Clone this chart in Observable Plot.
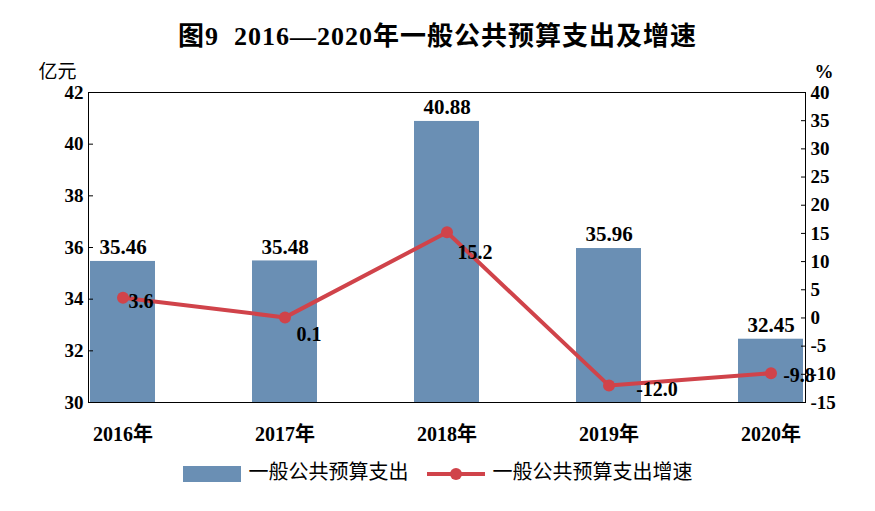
<!DOCTYPE html>
<html><head><meta charset="utf-8">
<script src="https://cdn.jsdelivr.net/npm/d3@7"></script>
<script src="https://cdn.jsdelivr.net/npm/@observablehq/plot@0.6"></script>
<style>
body{margin:0;background:#fff;font-family:"Liberation Serif","Noto Sans CJK SC",serif;}
#title{height:62px;line-height:74px;text-align:center;font-size:26px;font-weight:bold;letter-spacing:1px;}
#legend{display:flex;justify-content:center;align-items:center;gap:18px;font-size:20px;margin-top:-6px;}
.sw{display:inline-block;vertical-align:middle;margin-right:8px;}
</style></head><body>
<div id="title">图9&nbsp; 2016—2020年一般公共预算支出及增速</div>
<div id="chart"></div>
<div id="legend">
 <span><span class="sw" style="width:58px;height:16px;background:#6a8fb4"></span>一般公共预算支出</span>
 <span><svg class="sw" width="58" height="16"><line x1="0" y1="8" x2="58" y2="8" stroke="#d0434a" stroke-width="4"/><circle cx="29" cy="8" r="6" fill="#d0434a"/></svg>一般公共预算支出增速</span>
</div>
<script>
const years = ["2016年","2017年","2018年","2019年","2020年"];
const spending = [35.46,35.48,40.88,35.96,32.45];
const growth = [3.6,0.1,15.2,-12.0,-9.8];
const leftTicks = [30,32,34,36,38,40,42];
const rightTicks = [-15,-10,-5,0,5,10,15,20,25,30,35,40];
const labelDx = [18,24,28,48,28];
const labelDy = [4,17,20,4,2];

const toLeft = r => 30 + (r + 15) * 12 / 55;
const bars = years.map((y,i)=>({year:y, v:spending[i]}));
const line = years.map((y,i)=>({year:y, g:growth[i], v:toLeft(growth[i]), dx:labelDx[i], dy:labelDy[i]}));
const font = "Liberation Serif, Noto Sans CJK SC, serif";

const chart = Plot.plot({
  width:875, height:400,
  marginTop:30, marginBottom:60, marginLeft:88, marginRight:70,
  style:{fontFamily:font, fontSize:"19px", fontWeight:"bold", color:"#000"},
  x:{domain:years, paddingInner:0.6, paddingOuter:0, align:0.5, label:null, axis:null},
  y:{domain:[30,42], label:null, axis:null},
  marks:[
    Plot.barY(bars,{x:"year", y1:30, y2:"v", fill:"#6a8fb4"}),
    Plot.frame({stroke:"#000"}),
    Plot.axisY({ticks:leftTicks, anchor:"left", tickSize:-5, tickPadding:10, label:null, fontSize:19}),
    Plot.axisY({ticks:rightTicks.map(toLeft), anchor:"right", tickSize:-5, tickPadding:10, label:null, fontSize:19,
      tickFormat:d=>String(Math.round((d-30)*55/12-15)), textAnchor:"start"}),
    Plot.axisX({anchor:"bottom", tickSize:0, tickPadding:24, label:null, fontSize:20}),
    Plot.text(["亿元"],{frameAnchor:"top-left", dx:-50, dy:-28, fontSize:19, fontWeight:"normal", textAnchor:"start"}),
    Plot.text(["%"],{frameAnchor:"top-right", dx:28, dy:-28, fontSize:19}),
    Plot.text(bars,{x:"year", y:"v", text:d=>d.v.toFixed(2), dy:-14, fontSize:21}),
    Plot.line(line,{x:"year", y:"v", stroke:"#d0434a", strokeWidth:4}),
    Plot.dot(line,{x:"year", y:"v", r:6, fill:"#d0434a"}),
    ...line.map(d=>Plot.text([d],{x:"year", y:"v", text:e=>e.g.toFixed(1), dx:d.dx, dy:d.dy, fontSize:20}))
  ]
});
document.getElementById("chart").append(chart);
</script></body></html>
